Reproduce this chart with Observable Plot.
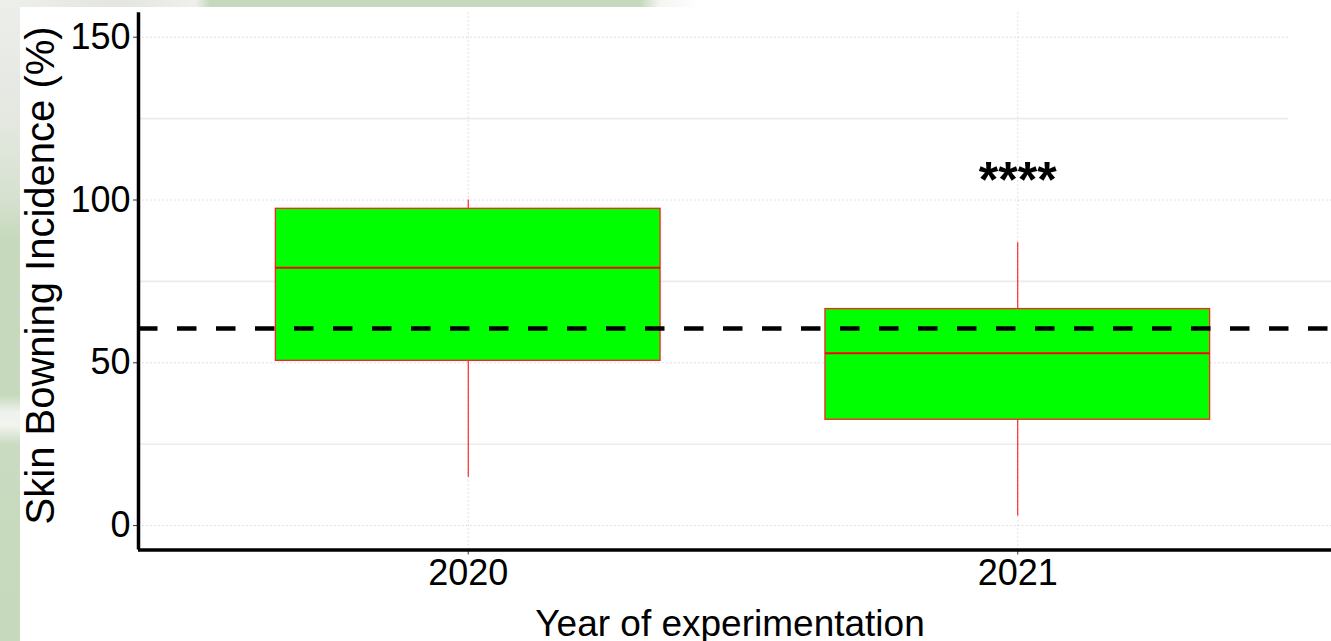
<!DOCTYPE html>
<html>
<head>
<meta charset="utf-8">
<script src="https://cdn.jsdelivr.net/npm/d3@7"></script>
<script src="https://cdn.jsdelivr.net/npm/@observablehq/plot@0.6"></script>
<style>
  html, body { margin: 0; padding: 0; width: 1331px; height: 641px; overflow: hidden; background: #ffffff; }
  #chart { position: absolute; left: 0; top: 0; width: 1347px; height: 641px; }
  #chart svg { max-width: none !important; width: 1347px; height: 641px; }
  .strip { position: absolute; z-index: 2; }
  #left { left: 0; top: 0; width: 20px; height: 641px;
    background: linear-gradient(to bottom, #eceeea 0px, #e4e8e1 120px, #d6e1cf 200px, #c6d9bc 240px, #c6d9bc 395px, #eef1ec 412px, #f2f4f0 425px, #c9dbc0 445px, #c6d9bc 641px); }
  #top { left: 0; top: 0; width: 1331px; height: 7px;
    background: linear-gradient(to right, #eef0ec 0px, #e2e6df 120px, #eef0ec 195px, #c6d9bc 210px, #c6d9bc 640px, #f4f6f2 660px, #ffffff 700px); }
  #cover { left: 1288px; top: 7px; width: 43px; height: 150px; background: #ffffff; }
</style>
</head>
<body>
<div id="chart"></div>
<div class="strip" id="left"></div>
<div class="strip" id="top"></div>
<div class="strip" id="cover"></div>
<script>
// ---- data ----
const years = [2020, 2021];
const whiskerLow = [14.8, 2.9];
const q1 = [50.6, 32.5];
const median = [79.2, 52.9];
const q3 = [97.3, 66.5];
const whiskerHigh = [100, 86.9];
const referenceLine = [60.5];
const yTicks = [0, 50, 100, 150];
const yMinorTicks = [25, 75, 125];
const sigYears = [2021];
const sigLabels = ["****"];
const sigY = [101];
const xTitle = "Year of experimentation";
const yTitle = "Skin Bowning Incidence (%)";
const xDomain = [2019.4, 2021.6];
const yDomain = [-7.5, 157.5];
const halfBox = 0.35;

const boxes = years.map((year, i) => ({
  year, lo: whiskerLow[i], q1: q1[i], med: median[i], q3: q3[i], hi: whiskerHigh[i]
}));
const sig = sigYears.map((year, i) => ({year, label: sigLabels[i], y: sigY[i]}));

const font = "'Liberation Sans', Arial, sans-serif";

const plot = Plot.plot({
  width: 1347,
  height: 641,
  marginLeft: 138,
  marginRight: 0,
  marginTop: 12.3,
  marginBottom: 91.5,
  style: {fontFamily: font, background: "transparent", color: "#000", overflow: "visible", maxWidth: "none"},
  x: {domain: xDomain, axis: null},
  y: {domain: yDomain, axis: null},
  marks: [
    // minor grid
    Plot.ruleY(yMinorTicks, {stroke: "#ececec", strokeWidth: 1.6}),
    // major grid (dotted)
    Plot.ruleY(yTicks, {stroke: "#d8d8d8", strokeWidth: 1, strokeDasharray: "1.5,2.5"}),
    Plot.ruleX(years, {stroke: "#d8d8d8", strokeWidth: 1, strokeDasharray: "1.5,2.5"}),
    // whiskers
    Plot.ruleX(boxes, {x: "year", y1: "lo", y2: "hi", stroke: "#ff0000", strokeWidth: 1}),
    // boxes
    Plot.rect(boxes, {x1: d => d.year - halfBox, x2: d => d.year + halfBox, y1: "q1", y2: "q3",
      fill: "#00ff00", stroke: "#ff2020", strokeWidth: 1.3}),
    // medians
    Plot.ruleY(boxes, {y: "med", x1: d => d.year - halfBox, x2: d => d.year + halfBox,
      stroke: "#ff0000", strokeWidth: 2}),
    // reference dashed line
    Plot.ruleY(referenceLine, {stroke: "#000", strokeWidth: 4.5, strokeDasharray: "19.5,19.5"}),
    // significance label
    Plot.text(sig, {x: "year", y: "y", text: "label", fontSize: 50, fontWeight: "bold",
      lineAnchor: "bottom", textAnchor: "middle", fill: "#000"}),
    // axes
    Plot.axisY({ticks: yTicks, tickSize: 5, tickPadding: 3, fontSize: 36, stroke: "#333", label: null, fill: "#000"}),
    Plot.axisX({ticks: years, tickFormat: d => String(d), tickSize: 5, tickPadding: 4.5, fontSize: 36,
      stroke: "#333", label: null, fill: "#000"}),
    // axis lines
    Plot.ruleX([xDomain[0]], {stroke: "#000", strokeWidth: 3.5}),
    Plot.ruleY([yDomain[0]], {stroke: "#000", strokeWidth: 3.5}),
    // axis titles
    Plot.text([xTitle], {frameAnchor: "bottom", text: d => d, fontSize: 37, lineAnchor: "bottom",
      textAnchor: "middle", dy: 85.5, dx: -13, fill: "#000"}),
    Plot.text([yTitle], {frameAnchor: "left", text: d => d, fontSize: 40, rotate: -90,
      textAnchor: "middle", lineAnchor: "middle", dx: -97, dy: -6, fill: "#000"})
  ]
});
plot.style.maxWidth = "none";
document.getElementById("chart").appendChild(plot);
</script>
</body>
</html>
